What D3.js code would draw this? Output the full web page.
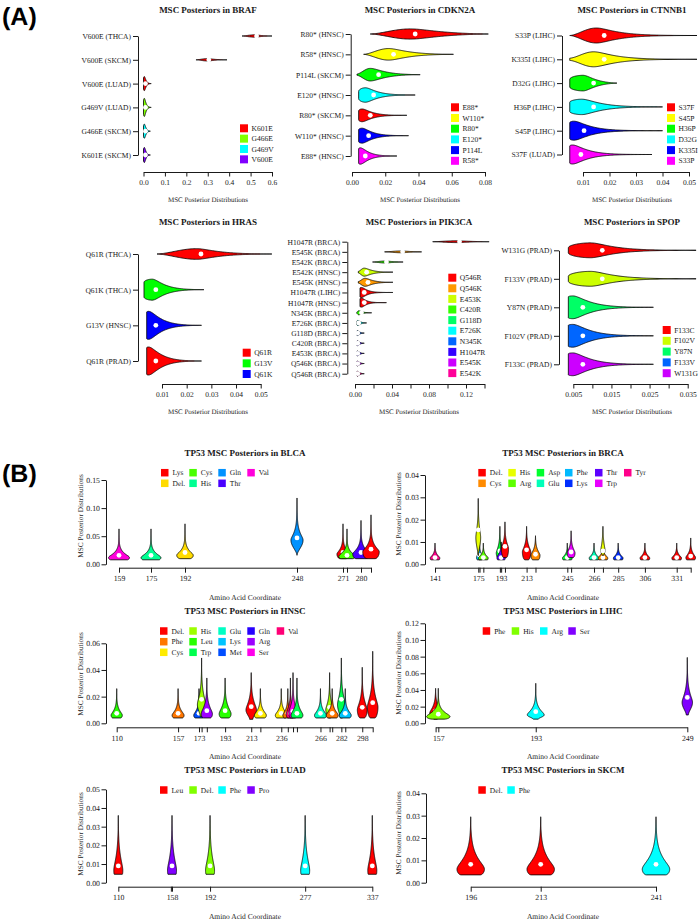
<!DOCTYPE html>
<html><head><meta charset="utf-8">
<script src="https://cdn.jsdelivr.net/npm/d3@7"></script>
<style>body{margin:0;background:#fff}svg{display:block;color:#1a1a1a;text-rendering:geometricPrecision}</style>
</head><body><svg id="c" width="699" height="920"></svg>
<script>
// ================= DATA =================
// Panel A violin stats columns: [min, mode, max, median, relWidth, baseFrac, decay]
const brafRows = ["V600E (THCA)","V600E (SKCM)","V600E (LUAD)","G469V (LUAD)","G466E (SKCM)","K601E (SKCM)"];
const brafColor = [0,0,0,1,2,3];
const brafStats = [
  [0.46,0.52,0.60,0.528,0.12,0,0.03],
  [0.245,0.30,0.39,0.305,0.12,0,0.03],
  [0,0.004,0.036,0.009,0.7,0.8,0.008],
  [0,0.004,0.036,0.009,0.9,0.8,0.008],
  [0,0.004,0.032,0.009,0.7,0.8,0.008],
  [0,0.004,0.032,0.009,0.75,0.8,0.008]];
const brafTicks = [0,0.1,0.2,0.3,0.4,0.5,0.6];
const brafLabeled = brafTicks;
const brafLegend = ["K601E","G466E","G469V","V600E"];

const cdkn2aRows = ["R80* (HNSC)","R58* (HNSC)","P114L (SKCM)","E120* (HNSC)","R80* (SKCM)","W110* (HNSC)","E88* (HNSC)"];
const cdkn2aColor = [0,1,2,3,0,4,5];
const cdkn2aStats = [
  [0.011,0.035,0.082,0.038,0.6,0,0.02],
  [0.007,0.022,0.061,0.025,0.68,0,0.012],
  [0.003,0.011,0.041,0.016,0.74,0.1,0.009],
  [0.004,0.008,0.038,0.013,0.85,0.5,0.007],
  [0.004,0.006,0.033,0.011,0.75,0.7,0.006],
  [0.004,0.006,0.034,0.010,0.88,0.8,0.006],
  [0.004,0.005,0.027,0.008,0.96,0.9,0.005]];
const cdkn2aTicks = [0,0.02,0.04,0.06,0.08];
const cdkn2aLabeled = cdkn2aTicks;
const cdkn2aLegend = ["E88*","W110*","R80*","E120*","P114L","R58*"];

const ctnnb1Rows = ["S33P (LIHC)","K335I (LIHC)","D32G (LIHC)","H36P (LIHC)","S45P (LIHC)","S37F (LUAD)"];
const ctnnb1Color = [0,1,2,3,4,5];
const ctnnb1Stats = [
  [0.005,0.015,0.053,0.018,0.75,0,0.008],
  [0.005,0.014,0.053,0.018,0.75,0.15,0.008],
  [0.005,0.010,0.0228,0.014,0.78,0.5,0.005],
  [0.005,0.0095,0.040,0.014,0.77,0.6,0.007],
  [0.005,0.0065,0.040,0.0104,0.95,0.85,0.006],
  [0.005,0.006,0.036,0.0092,0.95,0.9,0.0055]];
const ctnnb1Ticks = [0.01,0.02,0.03,0.04,0.05];
const ctnnb1Labeled = ctnnb1Ticks;
const ctnnb1Legend = ["S37F","S45P","H36P","D32G","K335I","S33P"];

const hrasRows = ["Q61R (THCA)","Q61K (THCA)","G13V (HNSC)","Q61R (PRAD)"];
const hrasColor = [0,1,2,0];
const hrasStats = [
  [0.008,0.024,0.0545,0.0258,0.38,0,0.009],
  [0.0027,0.006,0.027,0.0075,0.75,0.7,0.005],
  [0.0038,0.0045,0.026,0.0075,1.0,0.95,0.005],
  [0.0038,0.0045,0.026,0.0075,1.0,0.95,0.005]];
const hrasTicks = [0.01,0.02,0.03,0.04,0.05];
const hrasLabeled = hrasTicks;
const hrasLegend = ["Q61R","G13V","Q61K"];

const pik3caRows = ["H1047R (BRCA)","E545K (BRCA)","E542K (BRCA)","E542K (HNSC)","E545K (HNSC)","H1047R (LIHC)","H1047R (HNSC)","N345K (BRCA)","E726K (BRCA)","G118D (BRCA)","C420R (BRCA)","E453K (BRCA)","Q546K (BRCA)","Q546R (BRCA)"];
const pik3caColor = [0,1,3,2,1,0,0,3,5,6,7,7,8,9];
const pik3caStats = [
  [0.084,0.11,0.145,0.113,0.18,0,0.015],
  [0.032,0.05,0.072,0.0515,0.18,0,0.01],
  [0.019,0.033,0.052,0.034,0.2,0,0.008],
  [0.0036,0.010,0.041,0.0126,0.8,0.2,0.008],
  [0.0036,0.011,0.041,0.014,0.8,0.2,0.008],
  [0.0054,0.007,0.041,0.010,1.0,0.9,0.006],
  [0.0054,0.007,0.034,0.010,0.9,0.85,0.005],
  [0.002,0.004,0.018,0.007,0.4,0.3,0.004],
  [0.002,0.003,0.0125,0.004,0.5,0.6,0.003],
  [0.002,0.0025,0.010,0.003,0.5,0.7,0.0025],
  [0.002,0.0025,0.010,0.003,0.5,0.7,0.0025],
  [0.002,0.0025,0.010,0.003,0.5,0.7,0.0025],
  [0.002,0.0025,0.010,0.003,0.5,0.7,0.0025],
  [0.002,0.0025,0.010,0.003,0.5,0.7,0.0025]];
const pik3caTicks = [0,0.02,0.04,0.06,0.08,0.10,0.12,0.14];
const pik3caLabeled = [0,0.04,0.08,0.12];
const pik3caLegend = ["Q546R","Q546K","E453K","C420R","G118D","E726K","N345K","H1047R","E545K","E542K"];

const spopRows = ["W131G (PRAD)","F133V (PRAD)","Y87N (PRAD)","F102V (PRAD)","F133C (PRAD)"];
const spopColor = [0,1,2,3,4];
const spopStats = [
  [0.0037,0.0095,0.0372,0.0126,0.62,0.35,0.006],
  [0.0037,0.0095,0.0372,0.0126,0.62,0.35,0.006],
  [0.0037,0.0048,0.026,0.0075,0.95,0.92,0.0045],
  [0.0037,0.0048,0.026,0.0075,0.95,0.92,0.0045],
  [0.0037,0.0048,0.026,0.0075,0.95,0.92,0.0045]];
const spopTicks = [0.005,0.01,0.015,0.02,0.025,0.03,0.035];
const spopLabeled = [0.005,0.015,0.025,0.035];
const spopLegend = ["F133C","F102V","Y87N","F133V","W131G"];

// Panel B violin columns: [aminoAcid, legendIndex, min, mode, max, median, relWidth, baseFrac, decay]
const blcaLegend = ["Lys","Del.","Cys","His","Gln","Thr","Val"];
const blcaViolins = [
  [159,6,0.008,0.012,0.063,0.016,0.95,0.8,0.008],
  [175,3,0.008,0.012,0.063,0.016,0.9,0.8,0.008],
  [192,1,0.010,0.016,0.072,0.021,0.75,0.6,0.009],
  [248,4,0.016,0.043,0.118,0.047,0.55,0,0.014],
  [271,0,0.010,0.018,0.072,0.021,0.55,0.5,0.009],
  [273,2,0.010,0.014,0.063,0.016,0.75,0.7,0.008],
  [280,5,0.010,0.018,0.078,0.021,0.75,0.6,0.010],
  [285,0,0.010,0.022,0.088,0.027,0.75,0.5,0.011]];
const blcaTicks = [159,175,192,248,271,273,280,285];
const blcaLabels = [159,175,192,248,271,280];
const blcaYTicks = [0,0.05,0.10,0.15];

const brcaLegend = ["Del.","Cys","His","Arg","Asp","Glu","Phe","Lys","Thr","Trp","Tyr"];
const brcaViolins = [
  [141,10,0.002,0.0028,0.0095,0.003,0.8,0.85,0.0015],
  [176,6,0.002,0.003,0.0105,0.004,0.5,0.7,0.002],
  [175,2,0.004,0.012,0.0295,0.0154,0.4,0.1,0.005],
  [179,3,0.002,0.0028,0.0095,0.003,0.8,0.85,0.0015],
  [192,4,0.003,0.005,0.017,0.006,0.6,0.5,0.003],
  [193,8,0.002,0.003,0.010,0.003,0.7,0.8,0.002],
  [196,0,0.003,0.007,0.019,0.008,0.6,0.4,0.003],
  [213,0,0.002,0.0055,0.017,0.0065,0.7,0.4,0.003],
  [220,1,0.002,0.004,0.0128,0.0045,0.75,0.6,0.0025],
  [245,4,0.002,0.0028,0.0095,0.003,0.8,0.85,0.0015],
  [248,9,0.003,0.005,0.015,0.0055,0.65,0.5,0.0025],
  [266,5,0.002,0.0028,0.0095,0.003,0.8,0.85,0.0015],
  [273,1,0.002,0.0028,0.0095,0.003,0.8,0.85,0.0015],
  [273,2,0.004,0.006,0.017,0.006,0.35,0.3,0.004],
  [285,7,0.002,0.0028,0.0095,0.003,0.8,0.85,0.0015],
  [306,0,0.002,0.0028,0.0095,0.003,0.8,0.85,0.0015],
  [331,0,0.002,0.0028,0.0095,0.003,0.8,0.85,0.0015],
  [342,0,0.002,0.003,0.0118,0.0037,0.8,0.8,0.002]];
const brcaTicks = [141,175,176,179,192,193,196,213,220,245,248,266,273,285,306,331,342];
const brcaLabels = [141,175,193,213,245,266,285,306,331];
const brcaYTicks = [0,0.01,0.02,0.03,0.04];

const hnscLegend = ["Del.","Phe","Cys","His","Leu","Trp","Glu","Lys","Met","Gln","Arg","Ser","Val"];
const hnscViolins = [
  [110,4,0.004,0.006,0.026,0.0075,0.8,0.7,0.004],
  [157,1,0.004,0.006,0.026,0.0075,0.85,0.7,0.004],
  [173,8,0.004,0.006,0.026,0.0075,0.75,0.7,0.004],
  [175,3,0.005,0.014,0.049,0.018,0.6,0.3,0.008],
  [179,10,0.004,0.007,0.034,0.0095,0.8,0.6,0.006],
  [193,4,0.004,0.007,0.034,0.0095,0.85,0.6,0.006],
  [213,0,0.003,0.010,0.038,0.0125,0.75,0.3,0.007],
  [220,2,0.004,0.006,0.026,0.0075,0.85,0.7,0.004],
  [236,2,0.004,0.006,0.026,0.0075,0.85,0.7,0.004],
  [241,1,0.004,0.006,0.026,0.0075,0.7,0.7,0.004],
  [243,12,0.004,0.007,0.034,0.0075,0.6,0.6,0.005],
  [245,11,0.004,0.008,0.038,0.009,0.6,0.5,0.006],
  [248,5,0.004,0.006,0.034,0.0075,0.85,0.7,0.005],
  [266,6,0.004,0.006,0.026,0.0075,0.85,0.7,0.004],
  [273,3,0.004,0.010,0.038,0.012,0.55,0.3,0.006],
  [275,1,0.004,0.006,0.026,0.0075,0.85,0.7,0.004],
  [282,5,0.004,0.014,0.049,0.018,0.55,0.3,0.008],
  [285,7,0.004,0.006,0.026,0.0075,0.85,0.7,0.004],
  [298,0,0.004,0.010,0.042,0.012,0.7,0.4,0.007],
  [306,0,0.004,0.012,0.054,0.0155,0.75,0.4,0.009]];
const hnscTicks = [110,157,173,175,179,193,213,220,236,241,245,248,266,273,275,282,285,298,306];
const hnscLabels = [110,157,173,193,213,236,266,282,298];
const hnscYTicks = [0,0.02,0.04,0.06];

const lihcLegend = ["Phe","His","Arg","Ser"];
const lihcViolins = [
  [156,0,0.005,0.012,0.042,0.015,0.45,0.3,0.008],
  [157,1,0.005,0.008,0.042,0.011,0.9,0.5,0.006],
  [193,2,0.005,0.010,0.048,0.014,0.65,0.3,0.007],
  [249,3,0.010,0.025,0.079,0.031,0.4,0.2,0.012]];
const lihcTicks = [156,157,193,249];
const lihcLabels = [157,193,249];
const lihcYTicks = [0,0.02,0.04,0.06,0.08,0.10,0.12];

const luadLegend = ["Leu","Del.","Phe","Pro"];
const luadViolins = [
  [110,0,0.0045,0.0065,0.036,0.009,0.9,0.9,0.008],
  [158,3,0.0045,0.0065,0.036,0.009,0.9,0.9,0.008],
  [192,1,0.0045,0.0065,0.036,0.009,0.9,0.9,0.008],
  [277,2,0.0045,0.0065,0.036,0.009,0.9,0.9,0.008],
  [337,0,0.0045,0.0065,0.036,0.009,0.9,0.9,0.008]];
const luadTicks = [110,157,158,192,277,337];
const luadLabels = [110,158,192,277,337];
const luadYTicks = [0,0.01,0.02,0.03,0.04,0.05];

const skcmLegend = ["Del.","Phe"];
const skcmViolins = [
  [196,0,0.0035,0.006,0.0295,0.0082,0.98,0.7,0.0055],
  [213,0,0.0035,0.006,0.0295,0.0082,0.98,0.7,0.0055],
  [241,1,0.0035,0.006,0.0295,0.0082,0.98,0.7,0.0055]];
const skcmTicks = [196,213,241];
const skcmLabels = [196,213,241];
const skcmYTicks = [0,0.01,0.02,0.03,0.04];

// ================= DRAWING =================
const SERIF = "'Liberation Serif','Times New Roman',serif";
const INK = "#1a1a1a";
const svg = d3.select("#c").attr("font-family", SERIF).attr("fill", INK);
const line = d3.line();
const palette = n => d3.range(n).map(i => d3.hsl(360 * i / n, 1, 0.5).formatHex());

function profile(s) {
  const [mn, mode, mx, , wid, base, lam] = s;
  const out = [];
  const nl = 30, nr = 100;
  for (let i = 0; i <= nl; i++) {
    const v = mn + (mode - mn) * i / nl;
    const t = mode > mn ? (v - mn) / (mode - mn) : 1;
    const w = base + (1 - base) * Math.pow(Math.sin(t * Math.PI / 2), base > 0.3 ? 0.5 : 1.6);
    out.push([v, w * wid]);
  }
  const e = lam * 0.4;
  for (let i = 1; i <= nr; i++) {
    const v = mode + (mx - mode) * i / nr;
    const d = v - mode, t = d / (mx - mode);
    const w = Math.exp(-(Math.sqrt(d * d + e * e) - e) / lam) * (1 - t * t);
    out.push([v, w * wid]);
  }
  return out;
}

function styleAxis(sel, fs) {
  sel.attr("font-family", null).attr("font-size", null).attr("fill", null);
  sel.select(".domain").attr("stroke", INK).attr("stroke-width", 1);
  sel.selectAll(".tick line").attr("stroke", INK).attr("stroke-width", 1);
  sel.selectAll(".tick text").attr("fill", INK).attr("font-size", fs);
}

function panelA(c, rows, colorIdx, stats, ticks, labeled, fmt, legend) {
  const pal = palette(legend.length);
  const g = svg.append("g");
  const y = d3.scalePoint().domain(rows).range([c.top, c.bottom]);
  const x = d3.scaleLinear().domain([ticks[0], ticks[ticks.length - 1]]).range([c.x0, c.x1]);
  stats.forEach((s, i) => {
    const cy = y(rows[i]);
    const pts = profile(s);
    const up = pts.map(p => [x(p[0]), cy - p[1] * c.hw]);
    const lo = pts.map(p => [x(p[0]), cy + p[1] * c.hw]).reverse();
    g.append("path").attr("d", line(up.concat(lo)) + "Z")
      .attr("fill", pal[colorIdx[i]]).attr("stroke", "#000").attr("stroke-width", 0.8).attr("stroke-linejoin", "round");
    g.append("circle").attr("cx", x(s[3])).attr("cy", cy).attr("r", 2.4).attr("fill", "#fff");
  });
  const ya = g.append("g").attr("transform", `translate(${c.axisX},0)`)
    .call(d3.axisLeft(y).tickSize(5).tickSizeOuter(0).tickPadding(2));
  styleAxis(ya, 7.5);
  const xa = g.append("g").attr("transform", `translate(0,${c.axisY})`)
    .call(d3.axisBottom(x).tickValues(ticks).tickSize(4.5).tickSizeOuter(0).tickPadding(3)
      .tickFormat(d => labeled.includes(d) ? fmt(d) : ""));
  styleAxis(xa, 7.5);
  g.append("text").attr("x", c.tx).attr("y", c.ty).attr("text-anchor", "middle")
    .attr("font-weight", "bold").attr("font-size", 9).text(c.title);
  g.append("text").attr("x", c.tx).attr("y", c.axisY + 29.5).attr("text-anchor", "middle")
    .attr("font-size", 7).text("MSC Posterior Distributions");
  legend.forEach((name, i) => {
    const ly = c.ly + i * c.lstep;
    g.append("rect").attr("x", c.lx).attr("y", ly - 4).attr("width", 8).attr("height", 8).attr("fill", pal[i]);
    g.append("text").attr("x", c.lx + 11.5).attr("y", ly).attr("dy", "0.35em").attr("font-size", 7.5).text(name);
  });
}

function panelB(c, violins, ticks, labels, yTicks, legend) {
  const pal = palette(legend.length);
  const g = svg.append("g");
  const x = d3.scaleLinear().domain([ticks[0], ticks[ticks.length - 1]]).range([c.x0, c.x1]);
  const y = d3.scaleLinear().domain([0, yTicks[yTicks.length - 1]]).range([c.y0, c.y1]);
  violins.forEach(d => {
    const pos = d[0], ci = d[1], s = d.slice(2);
    const cx = x(pos);
    const pts = profile(s);
    const lf = pts.map(p => [cx - p[1] * c.hw, y(p[0])]);
    const rt = pts.map(p => [cx + p[1] * c.hw, y(p[0])]).reverse();
    g.append("path").attr("d", line(lf.concat(rt)) + "Z")
      .attr("fill", pal[ci]).attr("stroke", "#000").attr("stroke-width", 0.8).attr("stroke-linejoin", "round");
    g.append("circle").attr("cx", cx).attr("cy", y(s[3])).attr("r", 2.4).attr("fill", "#fff");
  });
  const ya = g.append("g").attr("transform", `translate(${c.yAxisX},0)`)
    .call(d3.axisLeft(y).tickValues(yTicks).tickSize(4.5).tickSizeOuter(0).tickPadding(1.5).tickFormat(d3.format(".2f")));
  styleAxis(ya, 7.8);
  const xa = g.append("g").attr("transform", `translate(0,${c.axisY})`)
    .call(d3.axisBottom(x).tickValues(ticks).tickSize(5).tickSizeOuter(0).tickPadding(3)
      .tickFormat(d => labels.includes(d) ? String(d) : ""));
  styleAxis(xa, 7.8);
  g.append("text").attr("x", c.tx).attr("y", c.ty).attr("text-anchor", "middle")
    .attr("font-weight", "bold").attr("font-size", 9).text(c.title);
  g.append("text").attr("x", c.tx).attr("y", c.axisY + 32).attr("text-anchor", "middle")
    .attr("font-size", 7.5).text("Amino Acid Coordinate");
  g.append("text").attr("transform", `translate(${c.ylx},${c.yly}) rotate(-90)`).attr("text-anchor", "middle")
    .attr("dy", "0.35em").attr("font-size", 7.3).text("MSC Posterior Distributions");
  const nRows = c.lrows.length;
  legend.forEach((name, i) => {
    const col = Math.floor(i / nRows), row = i % nRows;
    const lx = c.lcols[col], ly = c.lrows[row];
    g.append("rect").attr("x", lx).attr("y", ly - 3.75).attr("width", 7.5).attr("height", 7.5).attr("fill", pal[i]);
    g.append("text").attr("x", lx + 11.5).attr("y", ly).attr("dy", "0.35em").attr("font-size", 7.5).text(name);
  });
}

// panel labels
svg.append("text").attr("x", 2).attr("y", 25).attr("font-family", "'Liberation Sans',Arial,sans-serif")
  .attr("font-weight", "bold").attr("font-size", 25).attr("fill", "#000").text("(A)");
svg.append("text").attr("x", 2).attr("y", 482).attr("font-family", "'Liberation Sans',Arial,sans-serif")
  .attr("font-weight", "bold").attr("font-size", 25).attr("fill", "#000").text("(B)");

const f1 = d3.format(".1f"), f2 = d3.format(".2f"), f3 = d3.format(".3f");

panelA({title: "MSC Posteriors in BRAF", axisX: 138, top: 36, bottom: 155, axisY: 172, x0: 143.5, x1: 272, hw: 10,
        tx: 208, ty: 13.2, lx: 240, ly: 128.3, lstep: 10.35},
  brafRows, brafColor, brafStats, brafTicks, brafLabeled, f1, brafLegend);
panelA({title: "MSC Posteriors in CDKN2A", axisX: 350.7, top: 34, bottom: 156, axisY: 172, x0: 352, x1: 485, hw: 8.5,
        tx: 420, ty: 13.2, lx: 451, ly: 107.3, lstep: 10.7},
  cdkn2aRows, cdkn2aColor, cdkn2aStats, cdkn2aTicks, cdkn2aLabeled, f2, cdkn2aLegend);
panelA({title: "MSC Posteriors in CTNNB1", axisX: 562, top: 35.5, bottom: 154.5, axisY: 172, x0: 583, x1: 689, hw: 10,
        tx: 632, ty: 13.2, lx: 667, ly: 107.3, lstep: 10.7},
  ctnnb1Rows, ctnnb1Color, ctnnb1Stats, ctnnb1Ticks, ctnnb1Labeled, f2, ctnnb1Legend);
panelA({title: "MSC Posteriors in HRAS", axisX: 138, top: 254, bottom: 361, axisY: 384, x0: 162, x1: 260.7, hw: 14,
        tx: 208, ty: 225, lx: 242.7, ly: 352.7, lstep: 10.65},
  hrasRows, hrasColor, hrasStats, hrasTicks, hrasLabeled, f2, hrasLegend);
panelA({title: "MSC Posteriors in PIK3CA", axisX: 347.3, top: 241.7, bottom: 373.7, axisY: 384, x0: 355, x1: 484.5, hw: 5,
        tx: 419, ty: 225, lx: 448.3, ly: 277.7, lstep: 10.6},
  pik3caRows, pik3caColor, pik3caStats, pik3caTicks, pik3caLabeled, f2, pik3caLegend);
panelA({title: "MSC Posteriors in SPOP", axisX: 559, top: 250.3, bottom: 364.3, axisY: 384, x0: 573.3, x1: 687.7, hw: 12,
        tx: 632, ty: 225, lx: 662.7, ly: 330, lstep: 10.8},
  spopRows, spopColor, spopStats, spopTicks, spopLabeled, f3, spopLegend);

panelB({title: "TP53 MSC Posteriors in BLCA", x0: 119, x1: 371, y0: 564.3, y1: 480, yAxisX: 106, axisY: 567.7, hw: 11,
        tx: 245, ty: 455.6, ylx: 80, yly: 516, lcols: [161, 189.3, 218.3, 247.3], lrows: [472.7, 483.3]},
  blcaViolins, blcaTicks, blcaLabels, blcaYTicks, blcaLegend);
panelB({title: "TP53 MSC Posteriors in BRCA", x0: 435, x1: 690.7, y0: 564.3, y1: 475, yAxisX: 425, axisY: 567.7, hw: 6,
        tx: 563, ty: 455.6, ylx: 398, yly: 514, lcols: [478.3, 508.3, 536.7, 565, 595, 624], lrows: [472.7, 483.3]},
  brcaViolins, brcaTicks, brcaLabels, brcaYTicks, brcaLegend);
panelB({title: "TP53 MSC Posteriors in HNSC", x0: 116.7, x1: 372.7, y0: 723.3, y1: 643.3, yAxisX: 106, axisY: 727.3, hw: 7,
        tx: 245, ty: 614, ylx: 80, yly: 674, lcols: [160, 189.3, 218.3, 247.3, 276.7], lrows: [631, 641.7, 652.3]},
  hnscViolins, hnscTicks, hnscLabels, hnscYTicks, hnscLegend);
panelB({title: "TP53 MSC Posteriors in LIHC", x0: 435.6, x1: 687.3, y0: 723.3, y1: 623.3, yAxisX: 425, axisY: 727.3, hw: 13,
        tx: 563, ty: 614, ylx: 398, yly: 673, lcols: [482.7, 511.7, 540, 568.3], lrows: [631]},
  lihcViolins, lihcTicks, lihcLabels, lihcYTicks, lihcLegend);
panelB({title: "TP53 MSC Posteriors in LUAD", x0: 118.3, x1: 372.3, y0: 882.7, y1: 789.3, yAxisX: 106, axisY: 886.7, hw: 5,
        tx: 245, ty: 773.3, ylx: 80, yly: 834, lcols: [160, 189.3, 218.3, 247.3], lrows: [790]},
  luadViolins, luadTicks, luadLabels, luadYTicks, luadLegend);
panelB({title: "TP53 MSC Posteriors in SKCM", x0: 470.7, x1: 656, y0: 882.7, y1: 793.3, yAxisX: 426, axisY: 886.7, hw: 14,
        tx: 563, ty: 773.3, ylx: 398, yly: 833, lcols: [478.3, 507.3], lrows: [790]},
  skcmViolins, skcmTicks, skcmLabels, skcmYTicks, skcmLegend);
</script></body></html>
